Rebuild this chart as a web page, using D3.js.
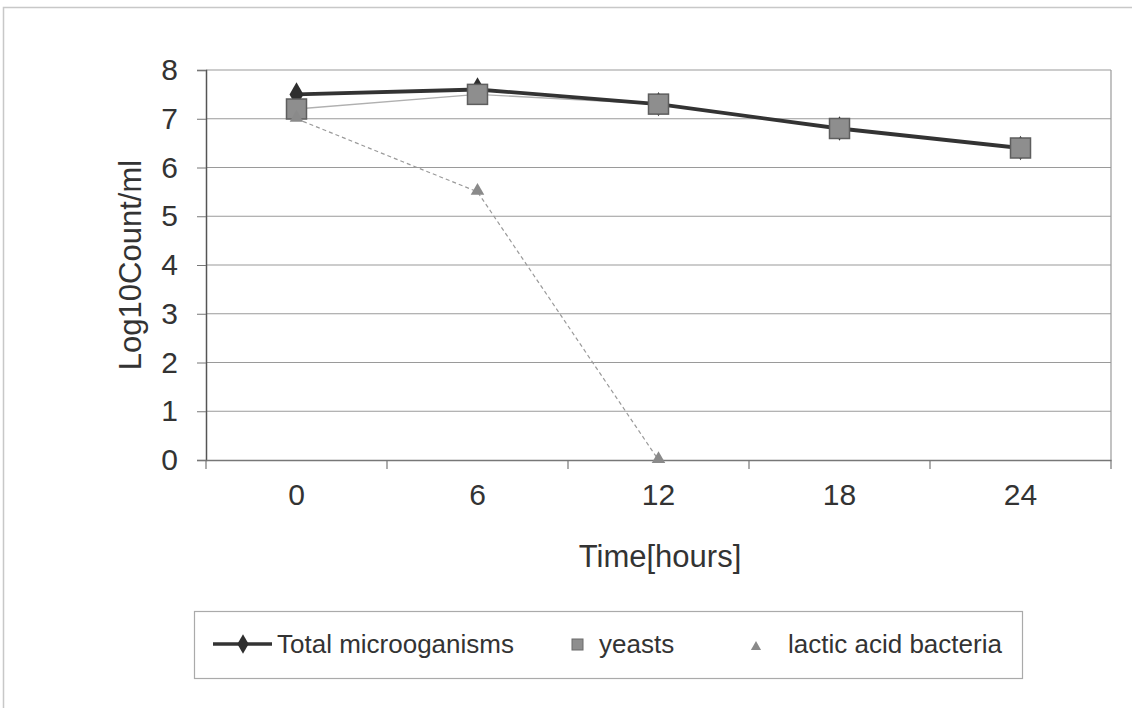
<!DOCTYPE html>
<html>
<head>
<meta charset="utf-8">
<script src="https://cdn.jsdelivr.net/npm/d3@7"></script>
<style>
  html, body { margin: 0; padding: 0; background: #fff; }
  svg { display: block; }
  text { font-family: "Liberation Sans", Arial, sans-serif; fill: #333; }
</style>
</head>
<body>
<svg id="chart" width="1132" height="708"></svg>
<script>
// Sampling times (hours) and log10 counts per ml
const times = ["0", "6", "12", "18", "24"];
const totalMicro = [7.5, 7.6, 7.3, 6.8, 6.4];
const yeasts = [7.2, 7.5, 7.3, 6.8, 6.4];
const lacticBacteria = [7.0, 5.5, 0];
const yTicks = [0, 1, 2, 3, 4, 5, 6, 7, 8];

const svg = d3.select("#chart");
const plot = { left: 206, right: 1111, top: 70, bottom: 460 };

// Outer chart frame
svg.append("path")
  .attr("d", "M3.5,708 V7.5 H1132")
  .attr("fill", "none").attr("stroke", "#c8c8c8").attr("stroke-width", 1.5);

const x = d3.scaleBand().domain(times).range([plot.left, plot.right]);
const y = d3.scaleLinear().domain([0, 8]).range([plot.bottom, plot.top]);
const cx = t => x(t) + x.bandwidth() / 2;

// Horizontal gridlines
svg.append("g").selectAll("line").data(yTicks.slice(1)).join("line")
  .attr("x1", plot.left).attr("x2", plot.right)
  .attr("y1", d => y(d)).attr("y2", d => y(d))
  .attr("stroke", "#9a9a9a").attr("stroke-width", 1.2);

// Right edge of plot area
svg.append("line")
  .attr("x1", plot.right).attr("x2", plot.right)
  .attr("y1", plot.top).attr("y2", plot.bottom)
  .attr("stroke", "#9a9a9a").attr("stroke-width", 1.2);

// Y axis
const yAxis = svg.append("g")
  .attr("transform", `translate(${plot.left},0)`)
  .call(d3.axisLeft(y).tickValues(yTicks).tickSize(9).tickPadding(19).tickFormat(d3.format("d")));
yAxis.select(".domain").attr("stroke", "#555").attr("stroke-width", 1.5);
yAxis.selectAll(".tick line").attr("stroke", "#777");
yAxis.selectAll(".tick text").attr("font-size", 30).attr("fill", "#333")
  .attr("font-family", "Liberation Sans, Arial, sans-serif");

// X axis: ticks between categories
const xAxis = svg.append("g")
  .attr("transform", `translate(0,${plot.bottom})`)
  .call(d3.axisBottom(x).tickSize(0).tickPadding(24));
xAxis.select(".domain").attr("stroke", "#777").attr("stroke-width", 1.5);
xAxis.selectAll(".tick text").attr("font-size", 30).attr("fill", "#333")
  .attr("font-family", "Liberation Sans, Arial, sans-serif");
const bounds = times.map(t => x(t)).concat([plot.right]);
xAxis.append("g").selectAll("line").data(bounds).join("line")
  .attr("x1", d => d).attr("x2", d => d)
  .attr("y1", 0).attr("y2", 9)
  .attr("stroke", "#777").attr("stroke-width", 1.2);

// Axis titles
svg.append("text")
  .attr("transform", `translate(141,${(plot.top + plot.bottom) / 2}) rotate(-90)`)
  .attr("text-anchor", "middle").attr("font-size", 31)
  .text("Log10Count/ml");
svg.append("text")
  .attr("x", 660).attr("y", 567)
  .attr("text-anchor", "middle").attr("font-size", 31)
  .text("Time[hours]");

const line = d3.line().x(d => cx(d.t)).y(d => y(d.v));
const pts = vals => vals.map((v, i) => ({ t: times[i], v }));

// Lactic acid bacteria: thin dashed line
svg.append("path").datum(pts(lacticBacteria))
  .attr("d", line).attr("fill", "none")
  .attr("stroke", "#9a9a9a").attr("stroke-width", 1.2).attr("stroke-dasharray", "4,3");

// Yeasts: thin grey line
svg.append("path").datum(pts(yeasts))
  .attr("d", line).attr("fill", "none")
  .attr("stroke", "#b0b0b0").attr("stroke-width", 1.3);

// Total microorganisms: thick dark line
svg.append("path").datum(pts(totalMicro))
  .attr("d", line).attr("fill", "none")
  .attr("stroke", "#333").attr("stroke-width", 3.8);

const diamond = d3.symbol().type(d3.symbolDiamond).size(170);
const triangle = d3.symbol().type(d3.symbolTriangle).size(80);

svg.append("g").selectAll("path").data(pts(totalMicro)).join("path")
  .attr("d", diamond)
  .attr("transform", d => `translate(${cx(d.t)},${y(d.v)})`)
  .attr("fill", "#2e2e2e");

svg.append("g").selectAll("rect").data(pts(yeasts)).join("rect")
  .attr("x", d => cx(d.t) - 10).attr("y", d => y(d.v) - 10)
  .attr("width", 20).attr("height", 20)
  .attr("fill", "#8e8e8e").attr("stroke", "#5e5e5e").attr("stroke-width", 1.5);

// Triangles sit on top of the square markers
svg.append("g").selectAll("path").data(pts(lacticBacteria)).join("path")
  .attr("d", triangle)
  .attr("transform", d => `translate(${cx(d.t)},${y(d.v) - 1})`)
  .attr("fill", "#8a8a8a");

// Legend
const lg = svg.append("g");
lg.append("rect").attr("x", 194.5).attr("y", 611.5).attr("width", 828).attr("height", 67)
  .attr("fill", "#fff").attr("stroke", "#aaa").attr("stroke-width", 1.2);
const ly = 644;
lg.append("line").attr("x1", 213).attr("x2", 272).attr("y1", ly).attr("y2", ly)
  .attr("stroke", "#333").attr("stroke-width", 3.5);
lg.append("path").attr("d", d3.symbol().type(d3.symbolDiamond).size(110))
  .attr("transform", `translate(243,${ly})`).attr("fill", "#2e2e2e");
lg.append("text").attr("x", 277).attr("y", ly + 9).attr("font-size", 26).text("Total microoganisms");
lg.append("rect").attr("x", 572).attr("y", ly - 5).attr("width", 11).attr("height", 11)
  .attr("fill", "#8e8e8e").attr("stroke", "#6a6a6a");
lg.append("text").attr("x", 599).attr("y", ly + 9).attr("font-size", 26).text("yeasts");
lg.append("path").attr("d", d3.symbol().type(d3.symbolTriangle).size(45))
  .attr("transform", `translate(756,${ly + 3})`).attr("fill", "#8a8a8a");
lg.append("text").attr("x", 788).attr("y", ly + 9).attr("font-size", 26).text("lactic acid bacteria");
</script>
</body>
</html>
